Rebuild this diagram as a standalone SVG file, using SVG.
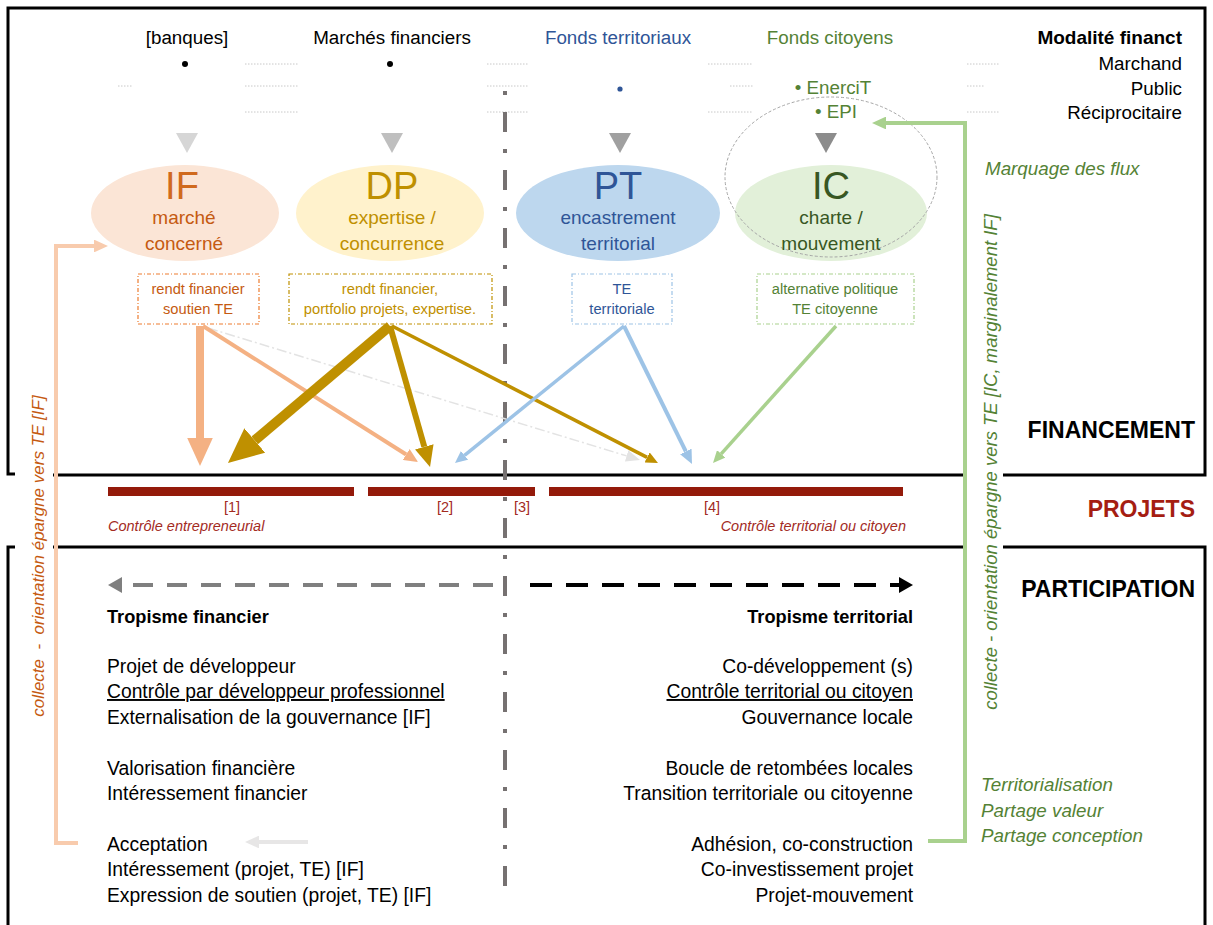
<svg xmlns="http://www.w3.org/2000/svg" width="1213" height="925" viewBox="0 0 1213 925">
<style>
text{font-family:"Liberation Sans",Arial,sans-serif;}
.t{font-size:19.3px;fill:#000;}
.tb{font-size:18.2px;font-weight:bold;fill:#000;}
.hd{font-size:18.8px;}
.sec{font-size:23px;font-weight:bold;}
.big{font-size:38px;}
.mid{font-size:19px;}
.sm{font-size:14.7px;}
.it{font-style:italic;}
.g{fill:#548235;}
.frame{fill:none;stroke:#000;stroke-width:3;}
.dots{stroke:#c8c8c8;stroke-width:1;stroke-dasharray:1.5 1.5;}
.bar{fill:#941a0a;}
.pl{font-size:14.5px;fill:#a32b1f;}
</style>
<defs>
<marker id="hs" viewBox="0 0 35 32" markerWidth="3.5" markerHeight="3.2" refX="0" refY="16" orient="auto" markerUnits="strokeWidth"><path d="M0,0 L35,16 L0,32 z" fill="#f4b183"/></marker>
<marker id="hg" viewBox="0 0 35 32" markerWidth="3.5" markerHeight="3.2" refX="0" refY="16" orient="auto" markerUnits="strokeWidth"><path d="M0,0 L35,16 L0,32 z" fill="#bf9000"/></marker>
<marker id="hb" viewBox="0 0 35 32" markerWidth="3.5" markerHeight="3.2" refX="0" refY="16" orient="auto" markerUnits="strokeWidth"><path d="M0,0 L35,16 L0,32 z" fill="#9dc3e6"/></marker>
<marker id="hv" viewBox="0 0 35 32" markerWidth="3.5" markerHeight="3.2" refX="0" refY="16" orient="auto" markerUnits="strokeWidth"><path d="M0,0 L35,16 L0,32 z" fill="#a9d18e"/></marker>
<marker id="hp" viewBox="0 0 35 32" markerWidth="3.5" markerHeight="3.2" refX="0" refY="16" orient="auto" markerUnits="strokeWidth"><path d="M0,0 L35,16 L0,32 z" fill="#f8cbad"/></marker>
<marker id="hl" viewBox="0 0 14 12" markerWidth="14" markerHeight="12" refX="0" refY="6" orient="auto" markerUnits="userSpaceOnUse"><path d="M0,0 L14,6 L0,12 z" fill="#e3e3e3"/></marker>
<marker id="hgl" viewBox="0 0 35 32" markerWidth="3.5" markerHeight="3.2" refX="0" refY="16" orient="auto" markerUnits="strokeWidth"><path d="M0,0 L35,16 L0,32 z" fill="#e7e6e6"/></marker>
<marker id="hk" viewBox="0 0 14 16" markerWidth="14" markerHeight="16" refX="0" refY="8" orient="auto" markerUnits="userSpaceOnUse"><path d="M0,0 L14,8 L0,16 z" fill="#000"/></marker>
<marker id="hgr" viewBox="0 0 14 16" markerWidth="14" markerHeight="16" refX="0" refY="8" orient="auto" markerUnits="userSpaceOnUse"><path d="M0,0 L14,8 L0,16 z" fill="#7f7f7f"/></marker>
</defs>
<rect width="1213" height="925" fill="#fff"/>

<!-- frame -->
<g id="frame">
<path class="frame" d="M15,474 H8 V8 H1205 V475 H1003"/>
<path class="frame" d="M53,475 H966"/>
<path class="frame" d="M53,547 H966"/>
<path class="frame" d="M1003,547 H1205 V925"/>
<path class="frame" d="M15,547 H8 V925"/>
</g>

<!-- dotted guides -->
<g id="guides">
<path class="dots" d="M245,64 H298 M245,86 H298 M245,112 H298 M118,86 H132 M487,64 H528 M487,86 H528 M487,112 H528 M708,64 H753 M730,86 H753 M708,112 H753 M967,64 H1000 M967,86 H985 M967,112 H1000"/>
<line x1="505" y1="91" x2="505" y2="888" stroke="#767171" stroke-width="4" stroke-dasharray="4 17 20 17"/>
</g>

<!-- header -->
<g id="header">
<text class="hd" x="187" y="44" text-anchor="middle">[banques]</text>
<text class="hd" x="392" y="44" text-anchor="middle">Marchés financiers</text>
<text class="hd" x="618" y="44" text-anchor="middle" fill="#2f5597">Fonds territoriaux</text>
<text class="hd g" x="830" y="44" text-anchor="middle">Fonds citoyens</text>
<text x="1182" y="44" text-anchor="end" font-size="19px" font-weight="bold">Modalité financt</text>
<text class="hd" x="1182" y="70" text-anchor="end">Marchand</text>
<text class="hd" x="1182" y="95" text-anchor="end">Public</text>
<text class="hd" x="1182" y="119" text-anchor="end">Réciprocitaire</text>
<circle cx="185" cy="64" r="3"/>
<circle cx="390" cy="64" r="3"/>
<circle cx="620" cy="89" r="2.6" fill="#2f5597"/>
<text class="hd g" x="833" y="94" text-anchor="middle">• EnerciT</text>
<text class="hd g" x="836" y="118" text-anchor="middle">• EPI</text>
<path d="M176,133 H198 L187,153 z" fill="#d6d6d6"/>
<path d="M381,133 H403 L392,153 z" fill="#bfbfbf"/>
<path d="M609,133 H631 L620,153 z" fill="#a0a0a0"/>
<path d="M815,133 H837 L826,153 z" fill="#8c8c8c"/>
</g>

<!-- nodes -->
<g id="node-IF">
<ellipse cx="185" cy="213" rx="94" ry="48" fill="#fbe5d6"/>
<text class="big" x="182" y="199" text-anchor="middle" fill="#d06a1e">IF</text>
<text class="mid" x="184" y="224" text-anchor="middle" fill="#c55a11">marché</text>
<text class="mid" x="184" y="250" text-anchor="middle" fill="#c55a11">concerné</text>
<rect x="138" y="274" width="121" height="50" fill="none" stroke="#ed7d31" stroke-width="1.2" stroke-dasharray="4 2 1 2"/>
<text class="sm" x="198" y="294" text-anchor="middle" fill="#c55a11">rendt financier</text>
<text class="sm" x="198" y="314" text-anchor="middle" fill="#c55a11">soutien TE</text>
</g>
<g id="node-DP">
<ellipse cx="390" cy="213" rx="94" ry="48" fill="#fff2cc"/>
<text class="big" x="392" y="199" text-anchor="middle" fill="#bf9000">DP</text>
<text class="mid" x="392" y="224" text-anchor="middle" fill="#bf9000">expertise /</text>
<text class="mid" x="392" y="250" text-anchor="middle" fill="#bf9000">concurrence</text>
<rect x="289" y="274" width="203" height="50" fill="none" stroke="#bf9000" stroke-width="1.2" stroke-dasharray="4 2 1 2"/>
<text class="sm" x="390" y="294" text-anchor="middle" fill="#bf9000">rendt financier,</text>
<text class="sm" x="390" y="314" text-anchor="middle" fill="#bf9000">portfolio projets, expertise.</text>
</g>
<g id="node-PT">
<ellipse cx="618" cy="213" rx="102" ry="48" fill="#bdd7ee"/>
<text class="big" x="618" y="199" text-anchor="middle" fill="#2f5597">PT</text>
<text class="mid" x="618" y="224" text-anchor="middle" fill="#2f5597">encastrement</text>
<text class="mid" x="618" y="250" text-anchor="middle" fill="#2f5597">territorial</text>
<rect x="572" y="274" width="100" height="50" fill="none" stroke="#9dc3e6" stroke-width="1.2" stroke-dasharray="4 2 1 2"/>
<text class="sm" x="622" y="294" text-anchor="middle" fill="#2f5597">TE</text>
<text class="sm" x="622" y="314" text-anchor="middle" fill="#2f5597">territoriale</text>
</g>
<g id="node-IC">
<ellipse cx="831" cy="213" rx="96" ry="48" fill="#e2f0d9"/>
<ellipse cx="831" cy="177" rx="106" ry="80" fill="none" stroke="#a6a6a6" stroke-width="1" stroke-dasharray="3 2"/>
<text class="big" x="831" y="199" text-anchor="middle" fill="#385723">IC</text>
<text class="mid" x="831" y="224" text-anchor="middle" fill="#385723">charte /</text>
<text class="mid" x="831" y="250" text-anchor="middle" fill="#385723">mouvement</text>
<rect x="757" y="274" width="157" height="50" fill="none" stroke="#a9d18e" stroke-width="1.2" stroke-dasharray="4 2 1 2"/>
<text class="sm" x="835" y="294" text-anchor="middle" fill="#548235">alternative politique</text>
<text class="sm" x="835" y="314" text-anchor="middle" fill="#548235">TE citoyenne</text>
</g>

<!-- connectors -->
<g id="connectors" fill="none">
<line x1="208" y1="328" x2="626.6" y2="455.9" stroke="#e3e3e3" stroke-width="1.5" stroke-dasharray="10 3 2 3" marker-end="url(#hl)"/>
<line x1="200" y1="326" x2="200" y2="438" stroke="#f4b183" stroke-width="8" marker-end="url(#hs)"/>
<line x1="203" y1="326" x2="406.2" y2="454.5" stroke="#f4b183" stroke-width="4" marker-end="url(#hs)"/>
<line x1="390" y1="326" x2="254.7" y2="440.4" stroke="#bf9000" stroke-width="10" marker-end="url(#hg)"/>
<line x1="390" y1="326" x2="424.3" y2="446.8" stroke="#bf9000" stroke-width="6" marker-end="url(#hg)"/>
<line x1="392" y1="326" x2="647.1" y2="457.4" stroke="#bf9000" stroke-width="3.5" marker-end="url(#hg)"/>
<line x1="624" y1="326" x2="464.5" y2="455.3" stroke="#9dc3e6" stroke-width="3.5" marker-end="url(#hb)"/>
<line x1="624" y1="326" x2="685.8" y2="451.4" stroke="#9dc3e6" stroke-width="4" marker-end="url(#hb)"/>
<line x1="836" y1="326" x2="721.2" y2="453.9" stroke="#a9d18e" stroke-width="3.5" marker-end="url(#hv)"/>
<path d="M78,843 H56 V246 H94" stroke="#f8cbad" stroke-width="4" marker-end="url(#hp)"/>
<path d="M928,841 H965 V123 H886" stroke="#a9d18e" stroke-width="4" marker-end="url(#hv)"/>
<line x1="308" y1="842" x2="259" y2="842" stroke="#e7e6e6" stroke-width="4" marker-end="url(#hgl)"/>
<line x1="493" y1="585" x2="122" y2="585" stroke="#7f7f7f" stroke-width="4" stroke-dasharray="20 14" marker-end="url(#hgr)"/>
<line x1="530" y1="585" x2="899" y2="585" stroke="#000" stroke-width="4" stroke-dasharray="22 14" marker-end="url(#hk)"/>
</g>

<!-- section labels -->
<g id="sections">
<text class="sec" x="1195" y="438" text-anchor="end">FINANCEMENT</text>
<text class="sec" x="1195" y="517" text-anchor="end" fill="#a51d12" font-size="21px">PROJETS</text>
<text class="sec" x="1195" y="597" text-anchor="end">PARTICIPATION</text>
<text class="hd it g" x="985" y="175" font-size="19.2px">Marquage des flux</text>
<text class="hd it g" x="981" y="791" font-size="19.2px">Territorialisation</text>
<text class="hd it g" x="981" y="817" font-size="19.2px">Partage valeur</text>
<text class="hd it g" x="981" y="842" font-size="19.2px">Partage conception</text>
<text class="it" font-size="17px" fill="#c55a11" xml:space="preserve" transform="translate(44,556) rotate(-90)" text-anchor="middle">collecte  -  orientation épargne vers TE [IF]</text>
<text class="it" font-size="18.5px" fill="#548235" transform="translate(997,462) rotate(-90)" text-anchor="middle">collecte - orientation épargne vers TE [IC, marginalement IF]</text>
</g>

<!-- projects -->
<g id="projets">
<rect class="bar" x="108" y="487" width="246" height="9"/>
<rect class="bar" x="368" y="487" width="167" height="9"/>
<rect class="bar" x="549" y="487" width="354" height="9"/>
<text class="pl" x="232" y="512" text-anchor="middle">[1]</text>
<text class="pl" x="445" y="512" text-anchor="middle">[2]</text>
<text class="pl" x="522" y="512" text-anchor="middle">[3]</text>
<text class="pl" x="712" y="512" text-anchor="middle">[4]</text>
<text class="pl it" x="108" y="531">Contrôle entrepreneurial</text>
<text class="pl it" x="906" y="531" text-anchor="end">Contrôle territorial ou citoyen</text>
</g>

<!-- participation -->
<g id="tropisme-financier">
<text class="tb" x="107" y="623">Tropisme financier</text>
<text class="t" x="107" y="673">Projet de développeur</text>
<text class="t" x="107" y="698" text-decoration="underline">Contrôle par développeur professionnel</text>
<text class="t" x="107" y="724">Externalisation de la gouvernance [IF]</text>
<text class="t" x="107" y="775">Valorisation financière</text>
<text class="t" x="107" y="800">Intéressement financier</text>
<text class="t" x="107" y="851">Acceptation</text>
<text class="t" x="107" y="876">Intéressement (projet, TE) [IF]</text>
<text class="t" x="107" y="902">Expression de soutien (projet, TE) [IF]</text>
</g>
<g id="tropisme-territorial">
<text class="tb" x="913" y="623" text-anchor="end">Tropisme territorial</text>
<text class="t" x="913" y="673" text-anchor="end">Co-développement (s)</text>
<text class="t" x="913" y="698" text-anchor="end" text-decoration="underline">Contrôle territorial ou citoyen</text>
<text class="t" x="913" y="724" text-anchor="end">Gouvernance locale</text>
<text class="t" x="913" y="775" text-anchor="end">Boucle de retombées locales</text>
<text class="t" x="913" y="800" text-anchor="end">Transition territoriale ou citoyenne</text>
<text class="t" x="913" y="851" text-anchor="end">Adhésion, co-construction</text>
<text class="t" x="913" y="876" text-anchor="end">Co-investissement projet</text>
<text class="t" x="913" y="902" text-anchor="end">Projet-mouvement</text>
</g>
</svg>
